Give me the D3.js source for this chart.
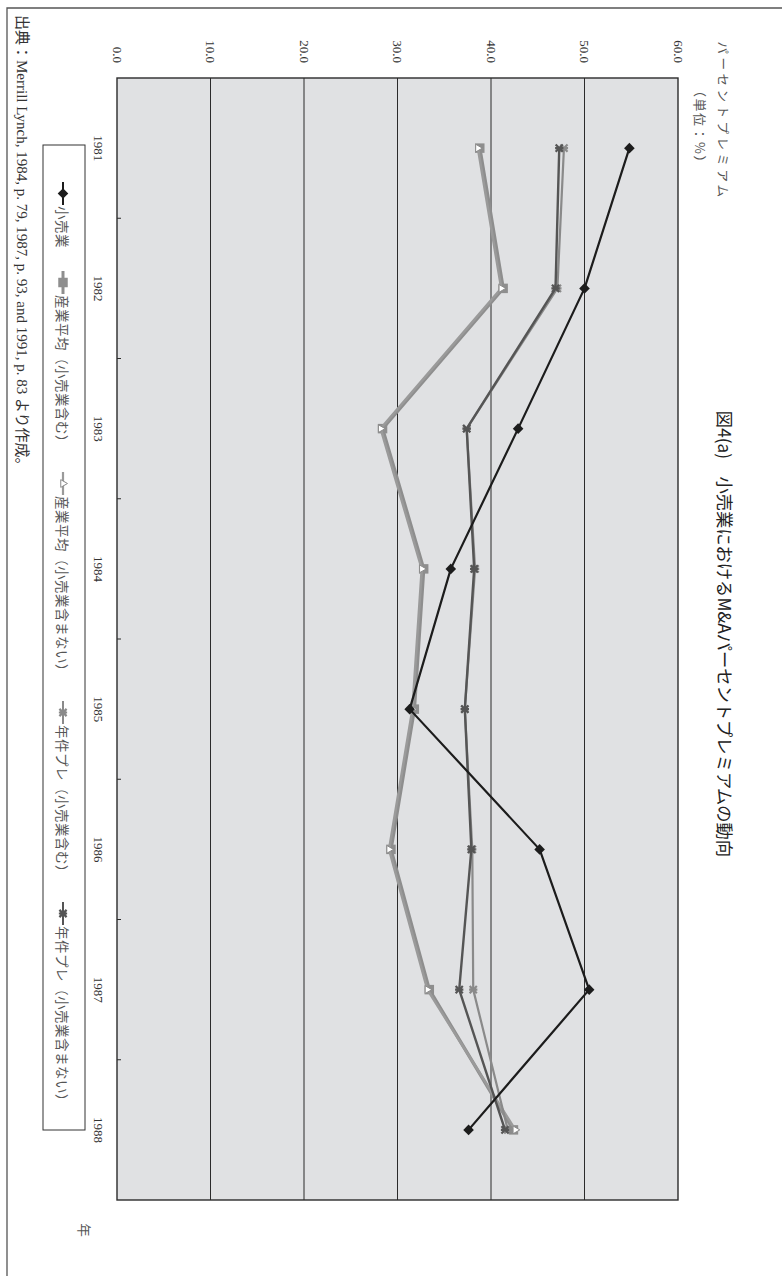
<!DOCTYPE html>
<html>
<head>
<meta charset="utf-8">
<script src="https://cdn.jsdelivr.net/npm/d3@7"></script>
<style>
  body { margin: 0; background: #fff; }
  svg { display: block; }
  text { -webkit-font-smoothing: antialiased; }
</style>
</head>
<body>
<script>
// Years on the category axis
const years = ["1981", "1982", "1983", "1984", "1985", "1986", "1987", "1988"];

// Percent premium series (%)
const retail          = [54.8, 50.0, 42.9, 35.7, 31.3, 45.2, 50.5, 37.6];
const industryIncl    = [38.8, 41.3, 28.4, 32.8, 31.8, 29.3, 33.4, 42.4];
const industryExcl    = [38.6, 41.1, 28.2, 32.6, 31.6, 29.1, 33.2, 42.6];
const dealPremIncl    = [47.8, 47.1, 37.4, 38.3, 37.2, 38.0, 38.1, 41.8];
const dealPremExcl    = [47.3, 46.9, 37.4, 38.2, 37.2, 37.9, 36.6, 41.5];

const valueTicks = [0, 10, 20, 30, 40, 50, 60];

const seriesNames = [
  "小売業",
  "産業平均（小売業含む）",
  "産業平均（小売業含まない）",
  "年件プレ（小売業含む）",
  "年件プレ（小売業含まない）"
];

const titleText  = "図4(a)　小売業におけるM&Aパーセントプレミアムの動向";
const yLabel1    = "パーセントプレミアム";
const yLabel2    = "（単位：%）";
const xLabel     = "年";
const sourceText = "出典：Merrill Lynch, 1984, p. 79, 1987, p. 93, and 1991, p. 83 より作成。";

const W = 782, H = 1276;
const serif = "'Liberation Serif', 'Noto Sans CJK JP', serif";
const jp = "'Noto Sans CJK JP', sans-serif";

const svg = d3.select("body").append("svg")
  .attr("width", W).attr("height", H);

// The chart is laid out landscape and turned a quarter turn clockwise on the page.
const g = svg.append("g").attr("transform", `translate(${W},0) rotate(90)`);

// Outer frame
g.append("path")
  .attr("d", `M8,0 L8,775 L${H},775`)
  .attr("fill", "none").attr("stroke", "#555").attr("stroke-width", 1.3);

// Plot area
const plot = { left: 78, right: 1200, top: 104, bottom: 665 };

const x = d3.scaleBand().domain(years).range([plot.left, plot.right]).padding(0);
const xc = d => x(d) + x.bandwidth() / 2;
const y = d3.scaleLinear().domain([0, 60]).range([plot.bottom, plot.top]);

g.append("rect")
  .attr("x", plot.left).attr("y", plot.top)
  .attr("width", plot.right - plot.left).attr("height", plot.bottom - plot.top)
  .attr("fill", "#e0e1e3");

// Horizontal gridlines
g.append("g").selectAll("line")
  .data(valueTicks.filter(v => v > 0 && v < 60))
  .join("line")
  .attr("x1", plot.left).attr("x2", plot.right)
  .attr("y1", d => y(d)).attr("y2", d => y(d))
  .attr("stroke", "#2b2b2b").attr("stroke-width", 1);

g.append("rect")
  .attr("x", plot.left).attr("y", plot.top)
  .attr("width", plot.right - plot.left).attr("height", plot.bottom - plot.top)
  .attr("fill", "none").attr("stroke", "#2b2b2b").attr("stroke-width", 1.4);

// Value axis labels
g.append("g").selectAll("text")
  .data(valueTicks)
  .join("text")
  .attr("x", plot.left - 15).attr("y", d => y(d))
  .attr("text-anchor", "end").attr("dominant-baseline", "central")
  .attr("font-family", serif).attr("font-size", 13).attr("fill", "#333")
  .text(d => d.toFixed(1));

// Category axis ticks (between bands) and labels
const bounds = years.slice(1).map(d => x(d));
g.append("g").selectAll("line")
  .data(bounds)
  .join("line")
  .attr("x1", d => d).attr("x2", d => d)
  .attr("y1", plot.bottom).attr("y2", plot.bottom - 4)
  .attr("stroke", "#2b2b2b").attr("stroke-width", 1);

g.append("g").selectAll("text")
  .data(years)
  .join("text")
  .attr("x", d => xc(d)).attr("y", 684)
  .attr("text-anchor", "middle").attr("dominant-baseline", "central")
  .attr("font-family", serif).attr("font-size", 13).attr("fill", "#333")
  .text(d => d);

// Axis titles
g.append("text")
  .attr("x", 1230).attr("y", 697)
  .attr("text-anchor", "middle").attr("dominant-baseline", "central")
  .attr("font-family", jp).attr("font-size", 13.5).attr("fill", "#555")
  .text(xLabel);

g.append("text")
  .attr("x", 121).attr("y", 59)
  .attr("text-anchor", "middle").attr("dominant-baseline", "central")
  .attr("font-family", jp).attr("font-size", 12.5)
  .attr("letter-spacing", 3.5).attr("fill", "#555")
  .text(yLabel1);

g.append("text")
  .attr("x", 127).attr("y", 82)
  .attr("text-anchor", "middle").attr("dominant-baseline", "central")
  .attr("font-family", jp).attr("font-size", 13)
  .attr("letter-spacing", 1.5).attr("fill", "#555")
  .text(yLabel2);

// Title
g.append("text")
  .attr("x", 634).attr("y", 57)
  .attr("text-anchor", "middle").attr("dominant-baseline", "central")
  .attr("font-family", jp).attr("font-size", 17.3).attr("fill", "#222")
  .text(titleText);

// Marker shapes
const asterisk = s => `M${-s},${-s}L${s},${s}M${-s},${s}L${s},${-s}M0,${-s * 1.15}L0,${s * 1.15}`;
function drawMarker(sel, kind, color) {
  if (kind === "diamond") {
    sel.append("path").attr("d", d3.symbol(d3.symbolSquare, 56)())
      .attr("transform", "rotate(45)")
      .attr("fill", color);
  } else if (kind === "square") {
    sel.append("path").attr("d", d3.symbol(d3.symbolSquare, 90)())
      .attr("fill", color);
  } else if (kind === "triangle") {
    sel.append("path").attr("d", d3.symbol(d3.symbolTriangle, 26)())
      .attr("fill", "#fff").attr("stroke", color).attr("stroke-width", 1);
  } else if (kind === "asterisk") {
    sel.append("path").attr("d", asterisk(3.6))
      .attr("fill", "none").attr("stroke", color).attr("stroke-width", 2.2);
  }
}

const series = [
  { name: seriesNames[1], values: industryIncl, color: "#8e8e8e", width: 3.4, marker: "square" },
  { name: seriesNames[2], values: industryExcl, color: "#9a9a9a", width: 2.6, marker: "triangle", markerColor: "#8a8a8a" },
  { name: seriesNames[3], values: dealPremIncl, color: "#8a8a8a", width: 2.2, marker: "asterisk" },
  { name: seriesNames[4], values: dealPremExcl, color: "#555", width: 2.4, marker: "asterisk" },
  { name: seriesNames[0], values: retail, color: "#1c1c1c", width: 2.2, marker: "diamond" }
];

const line = d3.line().x(d => xc(d.year)).y(d => y(d.value));

series.forEach(s => {
  const pts = years.map((yr, i) => ({ year: yr, value: s.values[i] }));
  g.append("path").datum(pts)
    .attr("d", line)
    .attr("fill", "none").attr("stroke", s.color)
    .attr("stroke-width", s.width).attr("stroke-linejoin", "round");
  pts.forEach(p => {
    const m = g.append("g").attr("transform", `translate(${xc(p.year)},${y(p.value)})`);
    drawMarker(m, s.marker, s.markerColor || s.color);
  });
});

// Legend
const legendOrder = [4, 0, 1, 2, 3]; // retail first, then the rest in order
const legBox = { u0: 145, u1: 1130, v0: 697, v1: 739 };
g.append("rect")
  .attr("x", legBox.u0).attr("y", legBox.v0)
  .attr("width", legBox.u1 - legBox.u0).attr("height", legBox.v1 - legBox.v0)
  .attr("fill", "#fff").attr("stroke", "#333").attr("stroke-width", 1);

const legY = 719;
const legStart = 182, legEnd = 1108, symW = 24;
const items = legendOrder.map(idx => {
  const s = series[idx];
  const item = g.append("g");
  item.append("line")
    .attr("x1", 0).attr("x2", 23)
    .attr("y1", legY).attr("y2", legY)
    .attr("stroke", s.color).attr("stroke-width", Math.max(2, s.width - 0.4));
  const m = item.append("g").attr("transform", `translate(11.5,${legY})`);
  drawMarker(m, s.marker, s.markerColor || s.color);
  const t = item.append("text")
    .attr("x", symW).attr("y", legY)
    .attr("dominant-baseline", "central")
    .attr("font-family", jp).attr("font-size", 13.5)
    .attr("letter-spacing", 0.5)
    .attr("fill", "#555")
    .text(s.name);
  return { item, w: symW + t.node().getComputedTextLength() };
});
const totalW = d3.sum(items, d => d.w);
const gap = (legEnd - legStart - totalW) / (items.length - 1);
let cursor = legStart;
items.forEach(d => {
  d.item.attr("transform", `translate(${cursor},0)`);
  cursor += d.w + gap;
});

// Source note
g.append("text")
  .attr("x", 15).attr("y", 760)
  .attr("dominant-baseline", "central")
  .attr("font-family", serif).attr("font-size", 15).attr("fill", "#333")
  .text(sourceText);
</script>
</body>
</html>
